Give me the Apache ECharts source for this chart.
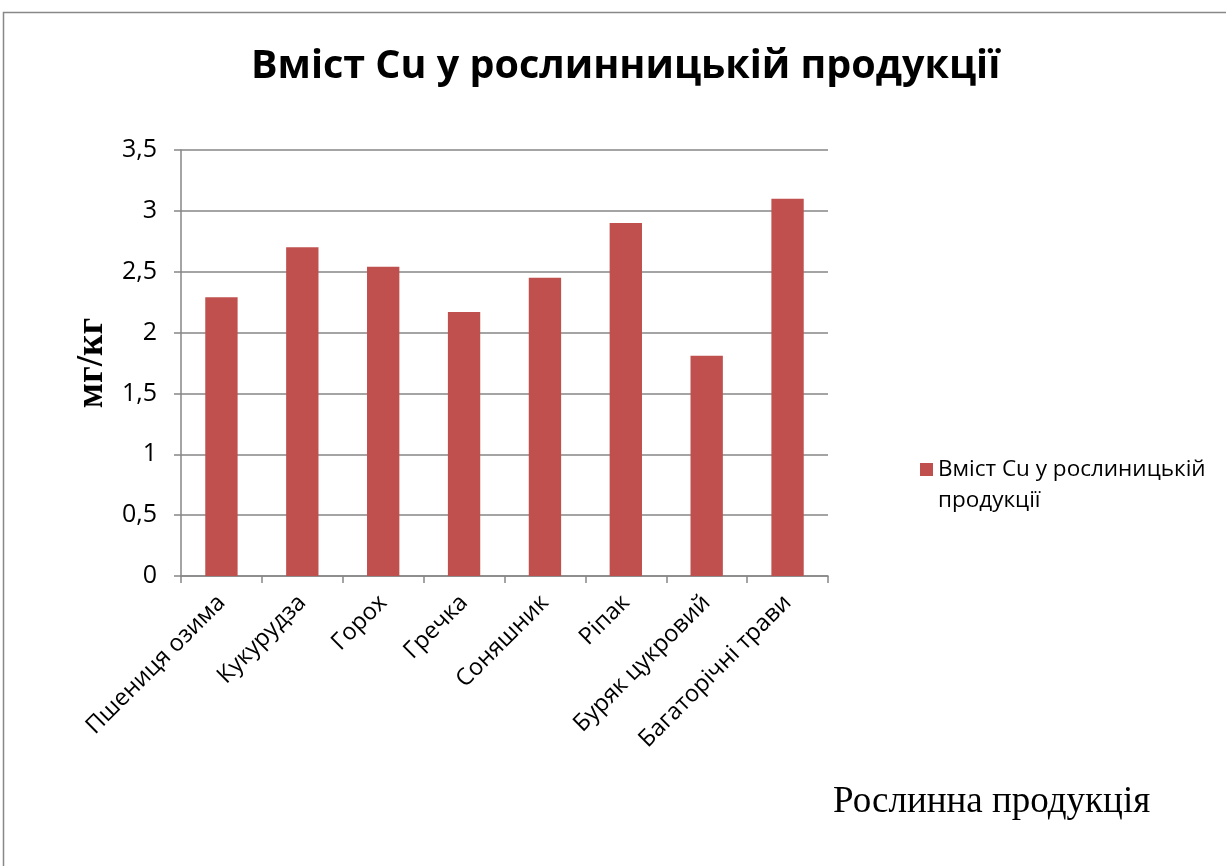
<!DOCTYPE html>
<html>
<head>
<meta charset="utf-8">
<script src="https://cdn.jsdelivr.net/npm/echarts@6/dist/echarts.min.js"></script>
<style>
  html, body { margin: 0; padding: 0; background: #fff; }
  #chart { width: 1226px; height: 866px; }
</style>
</head>
<body>
<div id="chart"></div>
<script>
// Вміст міді (мг/кг) у різних культурах
const categories = ['Пшениця озима', 'Кукурудза', 'Горох', 'Гречка', 'Соняшник', 'Ріпак', 'Буряк цукровий', 'Багаторічні трави'];
const cuValues = [2.29, 2.70, 2.54, 2.17, 2.45, 2.90, 1.81, 3.10];
const seriesName = 'Вміст Cu у рослиницькій продукції';
const chartTitle = 'Вміст Cu у рослинницькій продукції';
const yAxisName = 'мг/кг';
const xAxisName = 'Рослинна продукція';

const sans = '"Open Sans", "Noto Sans", sans-serif';
const serif = '"Liberation Serif", "DejaVu Serif", serif';
const gridColor = '#868686';

const chart = echarts.init(document.getElementById('chart'));
chart.setOption({
  backgroundColor: '#ffffff',
  animation: false,
  title: {
    text: chartTitle,
    left: 246,
    top: 42,
    textStyle: { fontFamily: sans, fontWeight: 'bold', fontSize: 39.5, color: '#000' }
  },
  legend: {
    data: [seriesName],
    left: 915,
    top: 418,
    orient: 'vertical',
    itemWidth: 13,
    itemHeight: 13,
    itemGap: 0,
    icon: 'rect',
    // a leading blank line keeps the marker level with the first text line
    formatter: () => ' \nВміст Cu у рослиницькій\nпродукції',
    textStyle: { fontFamily: sans, fontSize: 22.5, color: '#000', lineHeight: 31 }
  },
  grid: { left: 181, right: 398, top: 150, bottom: 290, containLabel: false },
  xAxis: {
    type: 'category',
    data: categories,
    axisLine: { lineStyle: { color: gridColor, width: 1.5 } },
    axisTick: { show: true, length: 7, alignWithLabel: false, lineStyle: { color: gridColor, width: 1.5 } },
    axisLabel: {
      rotate: 45, margin: 23, interval: 0,
      fontFamily: sans, fontSize: 23.5, color: '#000'
    }
  },
  yAxis: {
    type: 'value',
    min: 0, max: 3.5, interval: 0.5,
    name: yAxisName,
    nameLocation: 'middle',
    nameGap: 59,
    nameRotate: 90,
    nameTextStyle: { fontFamily: serif, fontWeight: 'bold', fontSize: 37, color: '#000' },
    axisLine: { show: true, lineStyle: { color: gridColor, width: 1.5 } },
    axisTick: { show: true, length: 7, lineStyle: { color: gridColor, width: 1.5 } },
    splitLine: { lineStyle: { color: gridColor, width: 1.5 } },
    axisLabel: {
      margin: 24,
      fontFamily: sans, fontSize: 25, color: '#000',
      formatter: v => String(v).replace('.', ',')
    }
  },
  series: [{
    name: seriesName,
    type: 'bar',
    data: cuValues,
    barWidth: '40%',
    itemStyle: { color: '#C0504D' }
  }],
  graphic: [
    {
      type: 'rect',
      shape: { x: 3.5, y: 12.5, width: 1400, height: 1000 },
      style: { fill: 'none', stroke: '#888888', lineWidth: 1.5 },
      silent: true
    },
    {
      type: 'text',
      left: 833,
      top: 784,
      style: { text: xAxisName, font: '37px ' + serif, fill: '#000' }
    }
  ]
});
</script>
</body>
</html>
